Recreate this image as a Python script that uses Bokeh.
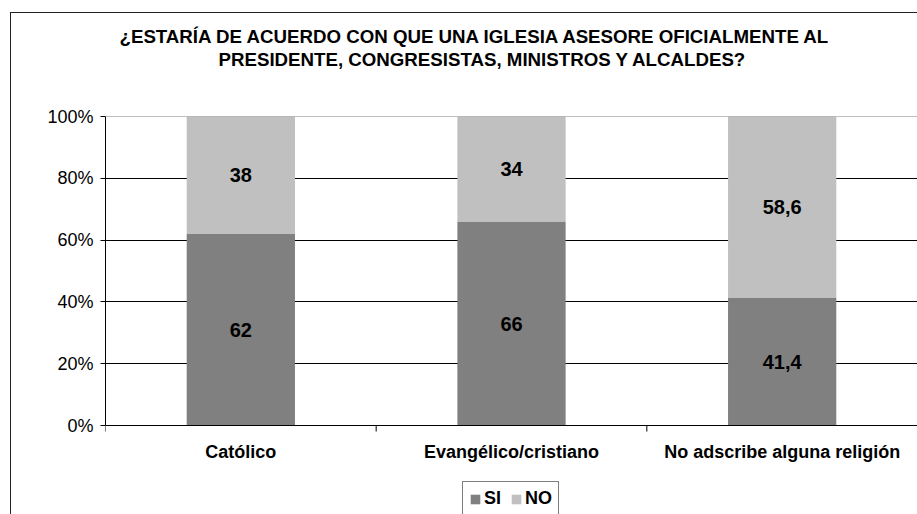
from bokeh.plotting import figure
from bokeh.models import (Range1d, FixedTicker, LinearAxis, Legend, LegendItem, Title,
                          ColumnDataSource, PrintfTickFormatter, Grid, Span)
from bokeh.embed import file_html
from bokeh.resources import INLINE
from bokeh.core.properties import value

categories = ["Católico", "Evangélico/cristiano", "No adscribe alguna religión"]
series = ["SI", "NO"]
si = [62, 66, 41.4]
no = [38, 34, 58.6]
colors = ["#808080", "#C0C0C0"]
y_ticks = [0, 20, 40, 60, 80, 100]
title_lines = ["¿ESTARÍA DE ACUERDO CON QUE UNA IGLESIA ASESORE OFICIALMENTE AL",
               "PRESIDENTE, CONGRESISTAS, MINISTROS Y ALCALDES?"]

FONT = "Liberation Sans"

# layout sizes (pixels)
PLOT_PX = 309        # height of the 0..100 % band
FRAME_H = 398        # frame extends below the axis to hold labels and legend
PX = 100.0 / PLOT_PX # data units per pixel
y_lo = -(FRAME_H - PLOT_PX) * PX

p = figure(frame_width=812, frame_height=FRAME_H, output_backend="svg", toolbar_location=None,
           x_range=Range1d(0, len(categories)), y_range=Range1d(y_lo, 100),
           x_axis_type=None, y_axis_type=None, title_location=None,
           min_border_left=94, min_border_right=0, min_border_top=103, min_border_bottom=0)
p.outline_line_color = None
p.background_fill_color = "white"
p.border_fill_color = "white"
p.margin = (12, 0, 0, 10)
p.styles = {"border-left": "1px solid #222222", "border-top": "1px solid #222222"}

xs = [i + 0.5 for i in range(len(categories))]
source = ColumnDataSource(dict(x=xs, SI=si, NO=no))
renderers = p.vbar_stack(series, x="x", width=0.4, color=colors, line_color=None, source=source)

# grid lines and plot-area top edge
grid = Grid(dimension=1, ticker=FixedTicker(ticks=y_ticks[1:-1]), grid_line_color="black", grid_line_width=1)
p.add_layout(grid)
p.add_layout(Span(location=y_ticks[-1], dimension="width", line_color="#808080", line_width=1))
# category axis line
p.add_layout(Span(location=y_ticks[0], dimension="width", line_color="black", line_width=1))

# y axis (limited to the 0..100 band)
yaxis = LinearAxis(ticker=FixedTicker(ticks=y_ticks), formatter=PrintfTickFormatter(format="%d%%"),
                   bounds=(y_ticks[0], y_ticks[-1]),
                   major_tick_in=0, major_tick_out=5, minor_tick_line_color=None,
                   axis_line_color="black", major_tick_line_color="black",
                   major_label_text_font=FONT, major_label_text_font_size="18px",
                   major_label_text_color="black", major_label_standoff=7)
p.add_layout(yaxis, "left")

# category tick marks at the boundaries between categories
bounds_x = list(range(len(categories) + 1))
p.segment(x0=bounds_x, y0=[0] * len(bounds_x), x1=bounds_x, y1=[-6 * PX] * len(bounds_x),
          line_color="black", line_width=1)

# category labels
p.text(x=xs, y=[-26 * PX] * len(xs), text=categories, text_font=value(FONT), text_font_style="bold",
       text_font_size="18px", text_align="center", text_baseline="middle", text_color="black")

# data labels
lab_x = xs + xs
lab_y = [s / 2 for s in si] + [s + n / 2 for s, n in zip(si, no)]
def fmt(v):
    return ("%g" % v).replace(".", ",")
lab_t = [fmt(v) for v in si] + [fmt(v) for v in no]
p.text(x=lab_x, y=lab_y, text=lab_t, text_font=value(FONT), text_font_style="bold",
       text_font_size="20px", text_align="center", text_baseline="middle", text_color="black")

# titles: a blank spacer next to the plot, then line 2, then line 1
spacer = Title(text=" ", align="left", text_font=FONT, text_font_size="18.7px", standoff=24)
t2 = Title(text=title_lines[1], align="left", offset=113, text_font=FONT,
           text_font_style="bold", text_font_size="18.7px", text_color="black", standoff=0)
t1 = Title(text=title_lines[0], align="left", offset=14, text_font=FONT,
           text_font_style="bold", text_font_size="18.7px", text_color="black", standoff=0)
p.add_layout(spacer, "above")
p.add_layout(t2, "above")
p.add_layout(t1, "above")

# legend, centred below the category labels
legend = Legend(items=[LegendItem(label=s, renderers=[r]) for s, r in zip(series, renderers)],
                orientation="horizontal", location=(357, -2),
                label_text_font=FONT, label_text_font_style="bold", label_text_font_size="18px",
                label_text_color="black", glyph_width=12, glyph_height=12, label_standoff=3,
                spacing=6, padding=6, margin=0, border_line_color="black", border_line_width=1,
                background_fill_color="white", background_fill_alpha=1)
p.add_layout(legend)

open("out.html", "w").write(file_html(p, INLINE))
